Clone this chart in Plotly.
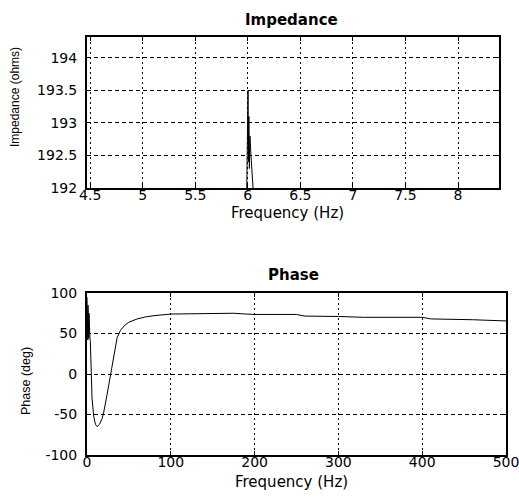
import plotly.graph_objects as go

# Impedance spike data (Hz, ohms)
imp_freq = [5.97, 5.99, 5.998, 6.002, 6.006, 6.01, 6.015, 6.02, 6.03, 6.04, 6.05, 6.07]
imp_vals = [191.9, 192.0, 193.0, 193.5, 192.4, 193.1, 192.3, 192.8, 192.5, 192.2, 192.0, 191.9]

# Phase data (Hz, deg)
ph_freq = [0, 0.3, 0.6, 0.9, 1.2, 1.5, 1.8, 2.1, 2.4, 2.7, 3.0, 3.5, 4, 5, 6, 8, 10, 12, 15, 18,
           20, 24, 28, 32, 36, 40, 45, 50, 60, 70, 80, 100, 150, 175, 190, 200, 250, 260,
           300, 330, 400, 410, 460, 480, 500]
ph_vals = [95, 45, 90, 42, 85, 48, 80, 44, 75, 50, 70, 45, 40, -5, -30, -52, -62, -65, -62, -55,
           -47, -25, 0, 25, 45, 54, 60, 64, 68, 70.5, 72, 74, 74.5, 75, 74, 73.5, 73.5, 71.5,
           71, 70, 70, 68, 67, 66, 65.5]

imp_xticks = [4.5, 5, 5.5, 6, 6.5, 7, 7.5, 8]
imp_xtext = ["4.5", "5", "5.5", "6", "6.5", "7", "7.5", "8"]
imp_yticks = [192, 192.5, 193, 193.5, 194]
imp_ytext = ["192", "192.5", "193", "193.5", "194"]
ph_xticks = [0, 100, 200, 300, 400, 500]
ph_xtext = ["0", "100", "200", "300", "400", "500"]
ph_yticks = [-100, -50, 0, 50, 100]
ph_ytext = ["-100", "-50", "0", "50", "100"]

W, H = 519, 499
TICKFONT = "DejaVu Sans, sans-serif"
LABFONT = "Liberation Sans, Arial, sans-serif"

fig = go.Figure()
fig.add_trace(go.Scatter(x=imp_freq, y=imp_vals, mode="lines",
                         line=dict(color="black", width=1), xaxis="x", yaxis="y",
                         showlegend=False, hoverinfo="skip"))
fig.add_trace(go.Scatter(x=ph_freq, y=ph_vals, mode="lines",
                         line=dict(color="black", width=1), xaxis="x2", yaxis="y2",
                         showlegend=False, hoverinfo="skip"))

def px_x(p):
    return p / W

def px_y(p):
    return 1 - p / H

axis_common = dict(showline=True, linecolor="black", linewidth=2, mirror="ticks",
                   ticks="inside", ticklen=4, tickcolor="black", tickwidth=1,
                   showgrid=True, gridcolor="black", gridwidth=1.3, zeroline=False,
                   automargin=False, ticklabeloverflow="allow",
                   tickfont=dict(family=TICKFONT, size=14, color="black"))

fig.update_layout(
    width=W, height=H,
    margin=dict(l=0, r=0, t=0, b=0),
    paper_bgcolor="white", plot_bgcolor="white",
    xaxis=dict(domain=[px_x(87), px_x(499)], range=[4.47, 8.39], tickvals=imp_xticks,
               ticktext=imp_xtext, anchor="y", griddash="2px,3px", ticklabelstandoff=-7,
               **axis_common),
    yaxis=dict(domain=[px_y(188), px_y(37)], range=[192, 194.32], tickvals=imp_yticks,
               ticktext=imp_ytext, anchor="x", griddash="4px,3px", ticklabelstandoff=5,
               **axis_common),
    xaxis2=dict(domain=[px_x(87), px_x(506)], range=[0, 500], tickvals=ph_xticks,
                ticktext=ph_xtext, anchor="y2", griddash="2px,3px", ticklabelstandoff=-7,
                **axis_common),
    yaxis2=dict(domain=[px_y(455), px_y(293)], range=[-100, 100], tickvals=ph_yticks,
                ticktext=ph_ytext, anchor="x2", griddash="4px,3px", ticklabelstandoff=5,
                **axis_common),
)

ann = [
    dict(text="<b>Impedance</b>", x=px_x(291), y=px_y(20), size=15, angle=0, fam=TICKFONT),
    dict(text="Frequency (Hz)", x=px_x(288), y=px_y(213), size=15, angle=0, fam=TICKFONT),
    dict(text="Impedance (ohms)", x=px_x(15), y=px_y(97), size=12, angle=-90, fam=LABFONT),
    dict(text="<b>Phase</b>", x=px_x(293), y=px_y(275), size=15, angle=0, fam=TICKFONT),
    dict(text="Frequency (Hz)", x=px_x(291), y=px_y(482), size=15, angle=0, fam=TICKFONT),
    dict(text="Phase (deg)", x=px_x(26), y=px_y(381), size=12.5, angle=-90, fam=LABFONT),
]
for a in ann:
    fig.add_annotation(text=a["text"], x=a["x"], y=a["y"], xref="paper", yref="paper",
                       showarrow=False, textangle=a["angle"], xanchor="center", yanchor="middle",
                       font=dict(family=a["fam"], size=a["size"], color="black"))

fig.write_html("out.html")
